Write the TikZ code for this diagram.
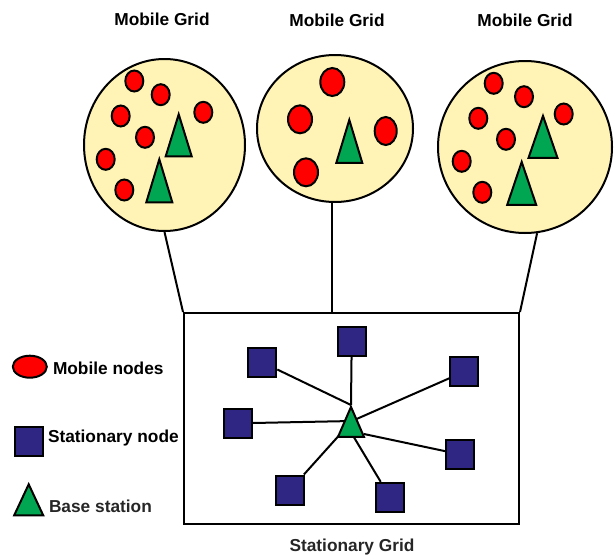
\documentclass[tikz,border=0pt]{standalone}
\usepackage{fontspec}
\setmainfont{Liberation Sans}
\usetikzlibrary{shapes.geometric,calc}
\definecolor{gridyellow}{RGB}{255,244,181}
\definecolor{mobred}{RGB}{255,0,0}
\definecolor{bsgreen}{RGB}{0,166,81}
\definecolor{statblue}{RGB}{46,38,130}
\begin{document}
\begin{tikzpicture}[x=1pt,y=-1pt,line width=2pt,
  lbl/.style={font=\fontsize{17.3}{20}\selectfont\bfseries,inner sep=0pt},
  mgrid/.style={ellipse,draw,fill=gridyellow,inner sep=0pt,line width=2pt},
  mob/.style={ellipse,draw,fill=mobred,inner sep=0pt,minimum width=18pt,minimum height=21pt},
  mobbig/.style={mob,minimum width=24pt,minimum height=28pt},
  bst/.style={isosceles triangle,shape border rotate=90,isosceles triangle stretches,
    draw,fill=bsgreen,inner sep=0pt,anchor=apex},
  stat/.style={rectangle,draw,fill=statblue,minimum width=28pt,minimum height=29pt,inner sep=0pt},
  link/.style={line width=2pt}]
\useasboundingbox (0,0) rectangle (616,557);

% titles of the three mobile grids
\node[lbl] (t1) at (162,19) {Mobile Grid};
\node[lbl] (t2) at (337,20) {Mobile Grid};
\node[lbl] (t3) at (525,20) {Mobile Grid};

% stationary grid frame
\node[draw,rectangle,minimum width=335pt,minimum height=211pt,inner sep=0pt] (sg) at (351.5,418.5) {};
\node[lbl,text=black!85] (sgl) at (352,547) {Stationary Grid};

% mobile grid clouds
\node[mgrid,minimum width=161pt,minimum height=172pt] (mg1) at (164.5,145) {};
\node[mgrid,minimum width=156pt,minimum height=147pt] (mg2) at (335,128.5) {};
\node[mgrid,minimum width=174pt,minimum height=172pt] (mg3) at (525,147) {};

% links from the mobile grids down to the stationary grid
\draw[link] (mg1.south) -- (sg.north west);
\draw[link] (mg2.268) -- (mg2.268 |- sg.north);
\draw[link] (mg3.-82) -- (sg.north east);

% grid 1
\node[mob] (a1) at (134.3,81) {};
\node[mob] (a2) at (160.7,94.7) {};
\node[mob] (a3) at (120.7,116) {};
\node[mob] (a4) at (203.3,112.3) {};
\node[mob] (a5) at (145,137.3) {};
\node[mob] (a6) at (105.7,159.3) {};
\node[mob] (a7) at (124.3,190) {};
\node[bst,minimum width=26pt,minimum height=42pt] (ab1) at (178.7,111.7) {};
\node[bst,minimum width=26pt,minimum height=43pt] (ab2) at (159.3,156.7) {};

% grid 2
\node[mobbig] (b1) at (332.3,82) {};
\node[mobbig] (b2) at (300,119.3) {};
\node[mob,minimum width=22pt,minimum height=28pt] (b3) at (385.7,131) {};
\node[mobbig] (b4) at (306,172.3) {};
\node[bst,minimum width=26pt,minimum height=43pt] (bb1) at (349.3,117.3) {};

% grid 3
\node[mob] (c1) at (493.7,83.3) {};
\node[mob] (c2) at (524,96.7) {};
\node[mob] (c3) at (478.3,118.3) {};
\node[mob] (c4) at (563.7,114) {};
\node[mob] (c5) at (506,139.3) {};
\node[mob] (c6) at (461.7,161.3) {};
\node[mob] (c7) at (482.3,192.3) {};
\node[bst,minimum width=29pt,minimum height=42pt] (cb1) at (543,113.3) {};
\node[bst,minimum width=29pt,minimum height=43pt] (cb2) at (521.7,159.3) {};

% stationary grid: base station and its stationary nodes
\coordinate (hubc) at (352,421);
\node[stat] (s1) at (351.7,341.7) {};
\node[stat] (s2) at (262.3,362.3) {};
\node[stat] (s3) at (464.3,371.7) {};
\node[stat] (s4) at (238,423.3) {};
\node[stat] (s5) at (460,454.3) {};
\node[stat] (s6) at (290,490) {};
\node[stat] (s7) at (390,497.3) {};
\draw[link] (s1) -- (351,405);
\draw[link] (s2) -- (351,405);
\draw[link] (s3) -- (hubc);
\draw[link] (s4) -- (hubc);
\draw[link] (s5) -- (364,434);
\draw[link] (s6) -- (hubc);
\draw[link] (s7) -- (352,434);
\node[bst,minimum width=26pt,minimum height=30pt] (hub) at (351,404.3) {};

% legend
\node[ellipse,draw,fill=mobred,inner sep=0pt,minimum width=34pt,minimum height=22pt] (lm) at (29.8,366.7) {};
\node[lbl,anchor=west] (lmt) at (52,368) {Mobile nodes};
\node[stat] (ls) at (28.5,441.7) {};
\node[lbl,anchor=west] (lst) at (47,437.7) {Stationary node};
\node[bst,minimum width=29pt,minimum height=31pt] (lb) at (28.7,481.7) {};
\node[lbl,anchor=west,text=black!85] (lbt) at (48,506) {Base station};
\end{tikzpicture}
\end{document}
